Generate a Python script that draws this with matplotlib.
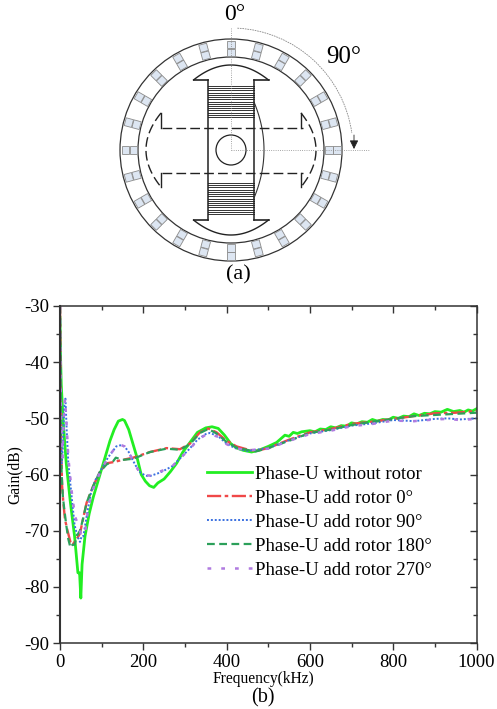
import matplotlib
matplotlib.use('Agg')
import matplotlib.pyplot as plt
import numpy as np
from matplotlib.patches import Circle, Rectangle, Arc

plt.rcParams['font.family'] = ['Liberation Serif', 'DejaVu Serif']
plt.rcParams['axes.unicode_minus'] = False

# frequency (kHz) / gain (dB)
freqU = [0, 1, 3, 8, 15, 25, 35, 43, 47, 50, 53, 60, 70, 80, 90, 100, 110, 120, 130, 140, 150, 155, 165, 175, 185, 195, 205, 215, 225, 235, 250, 265, 280, 295, 310, 330, 350, 365, 380, 395, 410, 425, 440, 460, 480, 500, 520, 540, 550, 560, 570, 580, 600, 612, 625, 638, 650, 662, 675, 688, 700, 712, 725, 738, 750, 762, 775, 788, 800, 812, 825, 838, 850, 862, 875, 888, 900, 915, 930, 945, 960, 970, 980, 990, 1000]
gainU = [-32, -38, -44, -51, -58, -65, -71, -77.5, -77.5, -82, -76, -71, -67, -64, -61.5, -59, -56.5, -54, -52, -50.5, -50.2, -50.4, -52, -54.5, -57, -60, -61.2, -62, -62.3, -61.5, -60.8, -59.5, -58, -56, -54.5, -52.5, -51.7, -51.5, -51.8, -53, -54.5, -55.3, -55.7, -56, -55.6, -55, -54.3, -53, -53.2, -52.5, -52.7, -52.4, -52.2, -52.4, -51.9, -52, -51.5, -51.7, -51.3, -51.4, -50.8, -51, -50.6, -50.7, -50.2, -50.5, -50.2, -50.3, -49.8, -50, -49.6, -49.7, -49.2, -49.5, -49.1, -49.2, -48.8, -48.9, -48.4, -48.8, -48.6, -48.9, -48.5, -48.7, -48.3]

freq0 = [0, 1, 2, 3, 5, 8, 12, 18, 25, 30, 35, 40, 48, 55, 64, 72, 80, 96, 112, 128, 150, 176, 216, 256, 288, 312, 336, 356, 376, 400, 424, 448, 470, 500, 550, 600, 650, 700, 750, 800, 850, 900, 950, 1000]
gain0 = [-30, -38, -50, -56, -62, -65, -68, -70, -72, -72.5, -72, -71.5, -70.5, -68, -65, -63.5, -62, -59.5, -58, -57.8, -57.4, -57, -56, -55.3, -55.5, -54.5, -52.5, -51.8, -52.5, -54, -55, -55.5, -55.8, -55.3, -53.8, -52.5, -51.9, -51, -50.6, -50.1, -49.6, -49.1, -49, -48.7]

freq90 = [0, 2, 4, 7, 10, 13, 16, 20, 28, 35, 42, 48, 52, 56, 65, 75, 85, 100, 115, 125, 135, 145, 155, 165, 175, 190, 205, 215, 235, 250, 270, 290, 310, 330, 350, 360, 380, 400, 420, 450, 500, 550, 600, 650, 700, 750, 800, 850, 900, 930, 960, 1000]
gain90 = [-30, -50, -58, -55, -48, -46.5, -52, -58, -64, -69, -71, -72, -71, -71, -67, -63, -61, -59, -57, -56, -55, -54.8, -55, -56, -57.5, -59.5, -60.2, -60.3, -59.8, -59.3, -58.5, -57, -55.5, -53.8, -52.8, -52.6, -53.2, -54.5, -55.3, -55.8, -55.3, -53.9, -52.7, -52.1, -51.3, -50.9, -50.3, -50.5, -50.1, -50, -50.2, -50]

freq180 = [0, 1, 2, 4, 7, 10, 15, 20, 25, 30, 35, 40, 48, 55, 64, 72, 80, 96, 112, 128, 134, 150, 176, 216, 256, 288, 312, 336, 356, 376, 400, 424, 448, 470, 500, 550, 600, 650, 700, 750, 800, 850, 900, 950, 1000]
gain180 = [-30, -40, -52, -60, -64, -66, -69, -71.5, -73, -72.5, -72.5, -71, -70, -68, -65, -63.5, -62, -59.5, -58.2, -57.6, -57, -57.4, -57.2, -56, -55.4, -55.6, -54.6, -52.6, -51.9, -52.7, -54.2, -55.2, -55.6, -55.9, -55.3, -54, -52.6, -52, -51.2, -50.6, -50.1, -49.6, -49.4, -49.2, -49]

freq270 = [0, 1, 3, 6, 9, 12, 15, 20, 28, 36, 44, 50, 54, 60, 66, 75, 85, 100, 115, 125, 135, 145, 155, 165, 175, 190, 205, 215, 235, 250, 270, 290, 310, 330, 350, 360, 380, 400, 420, 450, 500, 550, 600, 650, 700, 750, 800, 850, 900, 930, 960, 1000]
gain270 = [-30, -42, -52, -57, -50, -46.5, -50, -57, -63, -67.5, -69, -70.5, -70, -70.5, -67, -63.5, -61.5, -59, -57, -56, -55, -54.7, -55, -56, -57.5, -59.5, -60.1, -60.2, -59.6, -59.2, -58.5, -57, -55.6, -53.9, -52.9, -52.8, -53.3, -54.6, -55.3, -55.7, -55.4, -54, -52.8, -52.2, -51.4, -51, -50.4, -50.5, -50.2, -50.1, -50.3, -50.1]

labelU = 'Phase-U without rotor'
label0 = 'Phase-U add rotor 0°'
label90 = 'Phase-U add rotor 90°'
label180 = 'Phase-U add rotor 180°'
label270 = 'Phase-U add rotor 270°'

W, H = 497, 709
fig = plt.figure(figsize=(W / 100, H / 100), dpi=100)

# lower panel
ax = fig.add_axes([60 / W, 1 - 643 / H, 416.5 / W, 337 / H])
ax.plot(freqU, gainU, color='#22ee22', lw=2, label=labelU)
ax.plot(freq0, gain0, color='#f04848', lw=1.7, ls=(0, (6, 1.5, 1.5, 1.5)), label=label0)
ax.plot(freq90, gain90, color='#3a70e0', lw=1.4, ls=(0, (1, 1)), label=label90)
ax.plot(freq180, gain180, color='#2ca05a', lw=1.6, ls=(0, (3.5, 2)), label=label180)
ax.plot(freq270, gain270, color='#b07be0', lw=1.8, ls=(0, (1.5, 4)), label=label270)
ax.set_xlim(0, 1000)
ax.set_ylim(-90, -30)
ax.set_xticks(np.arange(0, 1001, 200))
ax.set_xticks(np.arange(100, 1000, 200), minor=True)
ax.set_yticks(np.arange(-90, -29, 10))
ax.set_yticks(np.arange(-85, -30, 10), minor=True)
ax.tick_params(which='major', length=5, width=1, color='#333333', labelsize=13.5, pad=3, top=True, right=True)
ax.tick_params(which='minor', length=3, width=1, color='#333333', top=True, right=True)
for sp in ax.spines.values():
    sp.set_linewidth(1.1)
    sp.set_color('#333333')
ax.spines['left'].set_linewidth(1.5)
# ticks inside on top and right only
for t in ax.xaxis.get_major_ticks() + ax.xaxis.get_minor_ticks():
    t.tick2line.set_marker(3)
for t in ax.yaxis.get_major_ticks() + ax.yaxis.get_minor_ticks():
    t.tick2line.set_marker(0)
fig.text(263 / W, 1 - 679 / H, 'Frequency(kHz)', fontsize=11.2, ha='center', va='center')
fig.text(15 / W, 1 - 475 / H, 'Gain(dB)', fontsize=11.2, ha='center', va='center', rotation=90)
ax.legend(loc='upper left', bbox_to_anchor=(0.353, 0.527), frameon=False, fontsize=13.5,
          handlelength=2.4, handletextpad=0.16, labelspacing=0.37, borderpad=0, borderaxespad=0)
fig.text(263 / W, 1 - 698 / H, '(b)', fontsize=14.5, ha='center', va='center')

# upper schematic, pixel coordinates
sk = fig.add_axes([0, 0, 1, 1], facecolor='none')
sk.set_xlim(0, W)
sk.set_ylim(H, 0)
sk.axis('off')
cx, cy = 231, 150
sk.add_patch(Circle((cx, cy), 111, fill=False, ec='#333333', lw=0.9))
sk.add_patch(Circle((cx, cy), 93, fill=False, ec='#333333', lw=0.9))
sk.add_patch(Circle((cx, cy), 15, fill=False, ec='#222222', lw=0.9))
for ang in np.arange(0, 360, 15):
    a = np.deg2rad(ang)
    for r0 in (94, 102):
        c = (cx + (r0 + 3.75) * np.sin(a), cy - (r0 + 3.75) * np.cos(a))
        sk.add_patch(Rectangle((c[0] - 4, c[1] - 3.75), 8, 7.5, angle=ang, rotation_point='center',
                               fc='#dde6f2', ec='#8a8a8a', lw=0.6))

# vertical pole with windings
stemL, stemR = cx - 23, cx + 23
for s in (1, -1):
    shoeY = cy - s * 70
    tt = np.linspace(-37.5, 37.5, 40)
    sk.plot(cx + tt, shoeY - s * 15 * (1 - (tt / 37.5) ** 2), color='#222222', lw=1)
    sk.plot([cx - 37.5, stemL], [shoeY, shoeY], color='#222222', lw=1.2)
    sk.plot([cx + 37.5, stemR], [shoeY, shoeY], color='#222222', lw=1.2)
    for yy in np.linspace(cy - s * 64, cy - s * 33, 15):
        sk.plot([stemL, stemR], [yy, yy], color='#333333', lw=0.7)
sk.plot([stemL, stemL], [cy - 70, cy + 70], color='#222222', lw=1.1)
sk.plot([stemR, stemR], [cy - 70, cy + 70], color='#222222', lw=1.1)
tt = np.linspace(-1, 1, 40)
sk.plot(stemR + 10 * (1 - tt ** 2), cy + 48 * tt, color='#333333', lw=0.8)

# horizontal pole, dashed
for yy in (cy - 22.5, cy + 22.5):
    sk.plot([cx - 69, cx + 72], [yy, yy], color='#222222', lw=1, ls=(0, (7, 3)))
for s in (-1, 1):
    xx = cx + s * 70
    sk.plot([xx, xx], [cy - 37, cy - 22.5], color='#222222', lw=1)
    sk.plot([xx, xx], [cy + 22.5, cy + 37], color='#222222', lw=1)
    tt = np.linspace(-1, 1, 40)
    sk.plot(xx + s * 15 * (1 - tt ** 2), cy + 37 * tt, color='#222222', lw=1, ls=(0, (7, 3)))

# angle guides
sk.plot([cx, cx], [28, cy], color='#888888', lw=0.6, ls=':')
sk.plot([cx, 369], [cy, cy], color='#888888', lw=0.6, ls=':')
sk.add_patch(Arc((cx, cy), 244, 244, theta1=-87, theta2=-8, color='#888888', lw=0.6, ls=(0, (2, 1))))
sk.annotate('', xy=(354, 149), xytext=(354, 135),
            arrowprops=dict(arrowstyle='-|>', color='#222222', lw=0.6, mutation_scale=13, shrinkA=0, shrinkB=0))
sk.text(235, 15, '0°', fontsize=17, ha='center', va='center')
sk.text(344, 57, '90°', fontsize=18, ha='center', va='center')
sk.text(238, 275, '(a)', fontsize=16, ha='center', va='center')

fig.savefig('out.png', dpi=100)
